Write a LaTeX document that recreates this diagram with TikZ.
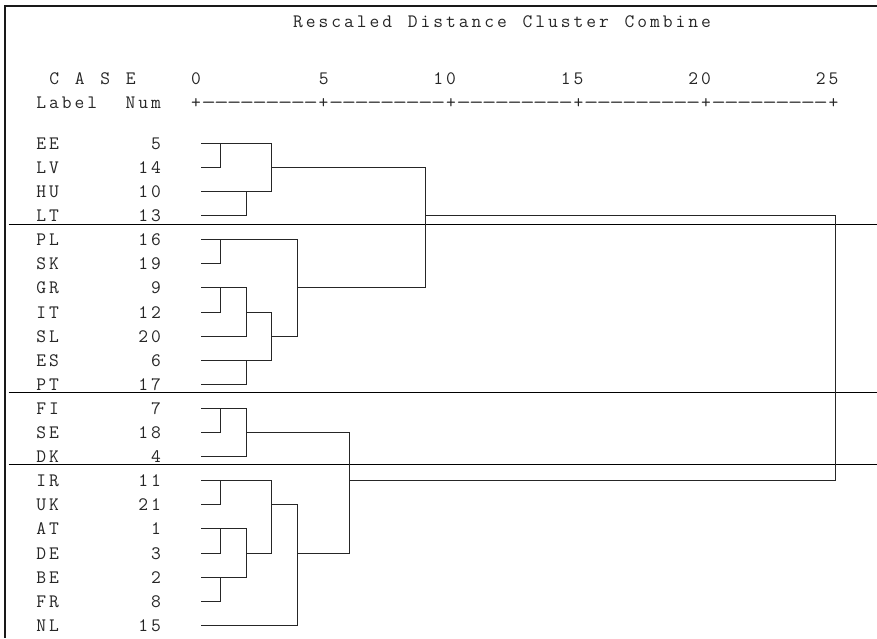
\documentclass[tikz,border=0pt]{standalone}
\usepackage{fontspec}
\usepackage{graphicx}
\newfontfamily\cfont{Latin Modern Mono}
\ExplSyntaxOn
\NewDocumentCommand\mono{m}{\exp_args:No \tl_map_inline:nn {#1} {\makebox[12.75pt][c]{##1}}}
\ExplSyntaxOff
\newcommand\axP{\makebox[12.75pt][c]{+}}
\newcommand\axD{\makebox[12.75pt][c]{\scalebox{1.5}[1]{-}}}
\newcommand\axSeg{\axP\axD\axD\axD\axD\axD\axD\axD\axD\axD}
\tikzset{
  txt/.style={inner sep=0pt, outer sep=0pt, text=black!85, font=\cfont\fontsize{19pt}{22pt}\selectfont},
  dendro/.style={draw=black!85, line width=1.6pt, line cap=rect},
  sepline/.style={draw=black, line width=1.5pt},
  frame/.style={draw=black!90, line width=2.2pt}
}
\begin{document}
\begin{tikzpicture}[x=1pt,y=-1pt]
\useasboundingbox (0,0) rectangle (877,638);
% frame
\coordinate (fa) at (877,6);
\coordinate (fb) at (5,6);
\coordinate (fc) at (5,638);
\draw[frame] (fa) -- (fb) -- (fc);
% header
\node[txt, anchor=base] (title) at (502,27) {\mono{Rescaled~Distance~Cluster~Combine}};
\node[txt, anchor=base] (case) at (92.4,84.5) {\mono{C~A~S~E}};
\node[txt, anchor=base] (s0) at (196,84.5) {\mono{0}};
\node[txt, anchor=base] (s5) at (323.75,84.5) {\mono{5}};
\node[txt, anchor=base] (s10) at (444.6,84.5) {\mono{10}};
\node[txt, anchor=base] (s15) at (572.1,84.5) {\mono{15}};
\node[txt, anchor=base] (s20) at (699.6,84.5) {\mono{20}};
\node[txt, anchor=base] (s25) at (827.1,84.5) {\mono{25}};
\node[txt, anchor=base west] (lblnum) at (34.8,108) {\mono{Label~~Num}};
\node[txt, anchor=base west] (axis) at (189.6,108) {\axSeg\axSeg\axSeg\axSeg\axSeg\axP};
% rows
\foreach \yy [count=\i from 0] in {143.5,167.5,191.5,215.5,239.5,263.5,287.5,312.5,336.5,360.5,384.5,408.5,432.5,456.5,480.5,504.5,528.5,553.5,577.5,601.5,625.5}{
  \coordinate (r\i) at (0,\yy);
}
\foreach \lab/\num [count=\i from 0] in {EE/5,LV/14,HU/10,LT/13,PL/16,SK/19,GR/9,IT/12,SL/20,ES/6,PT/17,FI/7,SE/18,DK/4,IR/11,UK/21,AT/1,DE/3,BE/2,FR/8,NL/15}{
  \coordinate (la\i) at (34.8,0);
  \coordinate (na\i) at (162.4,0);
  \node[txt, anchor=base west, yshift=-5.5pt] (l\i) at (la\i |- r\i) {\mono{\lab}};
  \node[txt, anchor=base east, yshift=-5.5pt] (n\i) at (na\i |- r\i) {\mono{\num}};
}
% columns
\coordinate (c0) at (202,0);
\coordinate (c1) at (220.5,0);
\coordinate (c2) at (246.5,0);
\coordinate (c3) at (271.5,0);
\coordinate (c4) at (297.5,0);
\coordinate (c5) at (349.5,0);
\coordinate (c6) at (425.5,0);
\coordinate (c7) at (835.5,0);
% separators
\foreach \r [count=\k] in {224.5,392.5,464.5}{
  \coordinate (sa\k) at (8.5,\r);
  \coordinate (sb\k) at (877,\r);
  \draw[sepline] (sa\k) -- (sb\k);
}
% cluster A
\draw[dendro] (c0|-r0) -- (c3|-r0) -- (c3|-r2) -- (c0|-r2);
\draw[dendro] (c0|-r1) -| (c1|-r0);
\draw[dendro] (c0|-r3) -| (c2|-r2);
\draw[dendro] (c3|-r1) -- (c6|-r1);
% cluster B
\draw[dendro] (c0|-r4) -- (c4|-r4) -- (c4|-r8);
\draw[dendro] (c0|-r5) -| (c1|-r4);
\draw[dendro] (c0|-r6) -- (c2|-r6) -- (c2|-r8) -- (c0|-r8);
\draw[dendro] (c0|-r7) -| (c1|-r6);
\draw[dendro] (c2|-r7) -- (c3|-r7) -- (c3|-r9) -- (c0|-r9);
\draw[dendro] (c0|-r10) -| (c2|-r9);
\draw[dendro] (c3|-r8) -- (c4|-r8);
\draw[dendro] (c4|-r6) -- (c6|-r6) -- (c6|-r1);
\draw[dendro] (c6|-r3) -- (c7|-r3) -- (c7|-r14);
% cluster C
\draw[dendro] (c0|-r11) -- (c2|-r11) -- (c2|-r13) -- (c0|-r13);
\draw[dendro] (c0|-r12) -| (c1|-r11);
\draw[dendro] (c2|-r12) -- (c5|-r12) -- (c5|-r17);
\draw[dendro] (c0|-r14) -- (c3|-r14) -- (c3|-r17);
\draw[dendro] (c0|-r15) -| (c1|-r14);
\draw[dendro] (c0|-r16) -- (c2|-r16) -- (c2|-r18) -- (c0|-r18);
\draw[dendro] (c0|-r17) -| (c1|-r16);
\draw[dendro] (c0|-r19) -| (c1|-r18);
\draw[dendro] (c2|-r17) -- (c3|-r17);
\draw[dendro] (c3|-r15) -- (c4|-r15) -- (c4|-r20) -- (c0|-r20);
\draw[dendro] (c4|-r17) -- (c5|-r17);
\draw[dendro] (c5|-r14) -- (c7|-r14);
\end{tikzpicture}
\end{document}
